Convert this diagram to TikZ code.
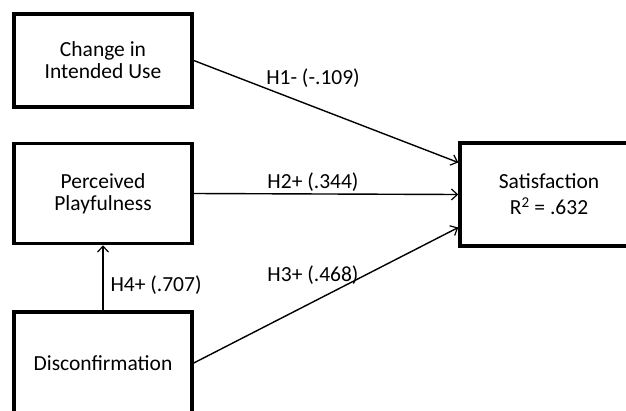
\documentclass[tikz,border=0pt]{standalone}
\usepackage{fontspec}
\setmainfont{Carlito}
\usepackage{tikz}
\usetikzlibrary{arrows.meta}

\begin{document}
\begin{tikzpicture}[x=1pt, y=-1pt,
    every node/.style = {font=\fontsize{21.5}{22}\selectfont, align=center},
    box/.style = {shape=rectangle, draw, line width=3.5pt,
      minimum width=178pt, inner sep=0pt},
    path/.style = {line width=1.4pt, -{Straight Barb[length=6pt,width=11pt,line width=1.2pt]}}]
  \useasboundingbox (0,0) rectangle (626,410);
  \clip (0,0) rectangle (626,410);
  % constructs
  \node[box, minimum height=93pt] (change) at (103,60.5) {Change in\\Intended Use};
  \node[box, minimum height=100pt] (play) at (103,193.5) {Perceived\\Playfulness};
  \node[box, minimum height=102pt] (disc) at (103,363) {Disconfirmation};
  \node[box, minimum height=103pt] (sat) at (549,194.5) {Satisfaction\\[4pt]R\textsuperscript{2} = .632};
  % paths
  \draw[path] (change.east) -- ([yshift=32pt]sat.west);
  \draw[path] (play.east) -- (sat.west);
  \draw[path] (disc.east) -- ([yshift=-33pt]sat.west);
  \draw[path] (disc.north) -- (play.south);
  % coefficients
  \node (h1) at (313,78) {H1- (-.109)};
  \node (h2) at (313,182) {H2+ (.344)};
  \node (h3) at (313,275) {H3+ (.468)};
  \node[anchor=west] (h4) at (107,285) {H4+ (.707)};
\end{tikzpicture}
\end{document}
